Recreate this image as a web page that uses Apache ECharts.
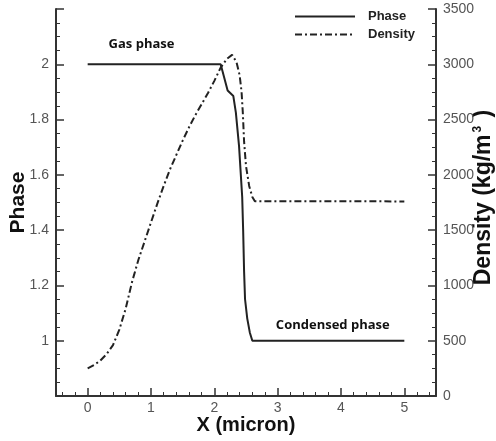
<!DOCTYPE html>
<html>
<head>
<meta charset="utf-8">
<script src="https://cdn.jsdelivr.net/npm/echarts@6/dist/echarts.min.js"></script>
<style>html,body{margin:0;padding:0;background:#fff;}#c{width:496px;height:441px;}</style>
</head>
<body>
<div id="c"></div>
<script>
// Phase curve (left axis)
var phaseX = [0, 2.1, 2.21, 2.3, 2.34, 2.39, 2.44, 2.455, 2.47, 2.485, 2.52, 2.56, 2.6, 5];
var phaseY = [2, 2, 1.905, 1.885, 1.825, 1.705, 1.52, 1.40, 1.25, 1.15, 1.08, 1.03, 1.0, 1.0];
// Density curve (right axis, kg/m^3)
var densX = [0, 0.1, 0.2, 0.3, 0.4, 0.5, 0.6, 0.7, 0.8, 0.9, 1.0, 1.1, 1.2, 1.3, 1.4, 1.5, 1.6, 1.7, 1.8, 1.9, 2.0, 2.1, 2.2, 2.28, 2.35, 2.4, 2.43, 2.45, 2.47, 2.5, 2.55, 2.6, 2.64, 5];
var densY = [250, 280, 320, 380, 460, 600, 790, 1030, 1230, 1400, 1570, 1740, 1900, 2050, 2180, 2310, 2430, 2540, 2640, 2740, 2850, 2970, 3050, 3085, 3020, 2900, 2750, 2560, 2300, 2080, 1900, 1800, 1762, 1760];
// Annotations
var notes = [
  {text: 'Gas phase', x: 0.85, y: 2.072},
  {text: 'Condensed phase', x: 3.87, y: 1.054}
];

function zip(a, b) { return a.map(function (v, i) { return [v, b[i]]; }); }

var chart = echarts.init(document.getElementById('c'), null, {renderer: 'canvas'});
var axisCol = '#333';
var FF = 'Liberation Sans, Arial, sans-serif';
var labelStyle = {color: '#555', fontSize: 14, fontFamily: FF, inside: false};

chart.setOption({
  animation: false,
  backgroundColor: '#fff',
  grid: {left: 56, right: 60, top: 9, bottom: 45, containLabel: false, outerBoundsMode: 'none'},
  legend: {
    orient: 'vertical', left: 294, top: 10, padding: 0, itemWidth: 60, itemHeight: 12, itemGap: 5,
    itemStyle: {opacity: 0},
    textStyle: {fontSize: 13, fontWeight: 'bold', color: '#222', fontFamily: FF, padding: [0, 0, 0, 8]},
    data: ['Phase', 'Density']
  },
  xAxis: {
    type: 'value', min: -0.5, max: 5.5, splitNumber: 6,
    name: 'X (micron)', nameLocation: 'middle', nameGap: 19, nameMoveOverlap: false,
    nameTextStyle: {fontSize: 20, fontWeight: 'bold', color: '#111', fontFamily: FF},
    axisLine: {onZero: false, lineStyle: {color: axisCol, width: 2}},
    axisTick: {inside: true, length: 8, lineStyle: {color: axisCol, width: 1.5}},
    minorTick: {show: true, splitNumber: 5, length: 4, lineStyle: {color: axisCol, width: 1}},
    splitLine: {show: false},
    axisLabel: Object.assign({margin: 5, formatter: function (v) { return (v < -0.1 || v > 5.1) ? '' : String(Math.round(v)); }}, labelStyle)
  },
  yAxis: [{
    type: 'value', position: 'left', min: 0.8, max: 2.2, interval: 0.2,
    name: 'Phase', nameLocation: 'middle', nameGap: 27, nameMoveOverlap: false,
    nameTextStyle: {fontSize: 21, fontWeight: 'bold', color: '#111', fontFamily: FF},
    axisLine: {show: true, onZero: false, lineStyle: {color: axisCol, width: 2}},
    axisTick: {show: true, inside: true, length: 8, lineStyle: {color: axisCol, width: 1.5}},
    minorTick: {show: true, splitNumber: 4, length: 4, lineStyle: {color: axisCol, width: 1}},
    splitLine: {show: false},
    axisLabel: Object.assign({margin: 7, formatter: function (v) { return (v < 0.95 || v > 2.15) ? '' : String(Math.round(v * 10) / 10); }}, labelStyle)
  }, {
    type: 'value', position: 'right', min: 0, max: 3500, interval: 500,
    name: '{a|Density (kg/m}{s|3}{a| )}', nameLocation: 'middle', nameGap: 36, nameMoveOverlap: false,
    nameTextStyle: {
      padding: [0, 0, 0, 10],
      rich: {
        a: {fontSize: 23, fontWeight: 'bold', color: '#111', fontFamily: FF},
        s: {fontSize: 12, fontWeight: 'bold', color: '#111', fontFamily: FF, verticalAlign: 'top', padding: [0, 2, 0, 2]}
      }
    },
    axisLine: {show: true, onZero: false, lineStyle: {color: axisCol, width: 2}},
    axisTick: {show: true, inside: true, length: 8, lineStyle: {color: axisCol, width: 1.5}},
    minorTick: {show: true, splitNumber: 4, length: 4, lineStyle: {color: axisCol, width: 1}},
    splitLine: {show: false},
    axisLabel: Object.assign({margin: 7, formatter: function (v) { return String(v); }}, labelStyle)
  }],
  series: [{
    name: 'Phase', type: 'line', yAxisIndex: 0, symbol: 'none', showSymbol: false,
    lineStyle: {color: '#222', width: 2, type: 'solid'},
    itemStyle: {color: '#222'},
    data: zip(phaseX, phaseY)
  }, {
    name: 'Density', type: 'line', yAxisIndex: 1, symbol: 'none', showSymbol: false,
    lineStyle: {color: '#222', width: 2, type: [7, 3, 2, 3]},
    itemStyle: {color: '#222'},
    data: zip(densX, densY)
  }]
});

var g = notes.map(function (n) {
  var p = chart.convertToPixel({xAxisIndex: 0, yAxisIndex: 0}, [n.x, n.y]);
  return {
    type: 'text', x: p[0], y: p[1],
    style: {text: n.text, fill: '#111', font: 'bold 13px "Open Sans", sans-serif', textAlign: 'center', textVerticalAlign: 'middle'}
  };
});
chart.setOption({graphic: g});
</script>
</body>
</html>
